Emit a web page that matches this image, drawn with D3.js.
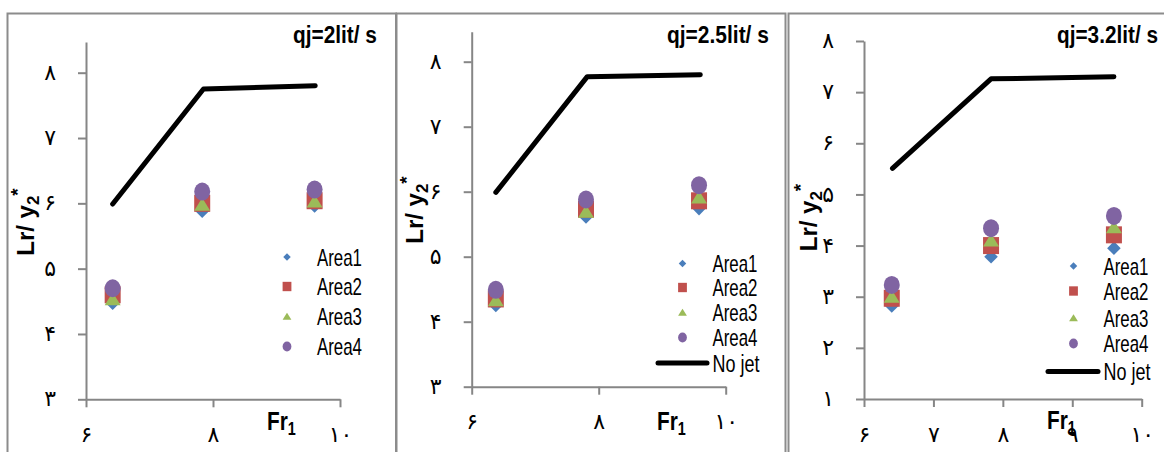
<!DOCTYPE html>
<html lang="en">
<head>
    <meta charset="UTF-8">
    <title>Lr/y2* vs Fr1</title>
    <script src="https://d3js.org/d3.v7.min.js"></script>
    <style>
        body {
            margin: 0;
            background: #fff;
            font-family: "Liberation Sans", Arial, sans-serif;
        }
        svg {
            display: block;
        }
    </style>
</head>
<body>
    <div id="container"></div>

    <script>
        // data
        const seriesNames = ['Area1', 'Area2', 'Area3', 'Area4'];
        const titles = ['qj=2lit/ s', 'qj=2.5lit/ s', 'qj=3.2lit/ s'];

        // Fr1 of the three runs in each panel
        const fr1 = [[6.42, 7.83, 9.6], [6.38, 7.8, 9.58], [6.4, 7.83, 9.6]];

        const area1 = [[4.47, 5.88, 5.96], [4.25, 5.61, 5.74], [2.82, 3.78, 3.95]];
        const area2 = [[4.60, 6.00, 6.04], [4.35, 5.73, 5.86], [2.97, 4.00, 4.21]];
        const area3 = [[4.53, 5.98, 6.03], [4.33, 5.69, 5.91], [3.00, 4.10, 4.36]];
        const area4 = [[4.70, 6.18, 6.21], [4.49, 5.88, 6.10], [3.23, 4.34, 4.58]];
        const noJetX = [[6.42, 7.85, 9.61], [6.38, 7.82, 9.6], [6.41, 7.83, 9.6]];
        const noJet = [[5.99, 7.75, 7.80], [5.99, 7.77, 7.80], [5.51, 7.26, 7.30]];

        const xTicks = [[6, 8, 10], [6, 8, 10], [6, 7, 8, 9, 10]];
        const yTicks = [[3, 4, 5, 6, 7, 8], [3, 4, 5, 6, 7, 8], [1, 2, 3, 4, 5, 6, 7, 8]];
        const yDomains = [[3, 8.47], [3, 8.46], [1, 8]];

        const colors = ['#4a7ebb', '#c0504d', '#9bbb59', '#8064a2'];

        // persian digits for tick labels
        const fa = n => String(n).replace(/\d/g, d => '۰۱۲۳۴۵۶۷۸۹'[d]);

        // layout of each panel, in pixels
        const panels = [
            { frame: [7.5, 13.5, 388.5], xr: [86, 340], yr: [399.3, 42], titleX: 377, titleW: 84,
              yLab: [34, 222], frX: 267, frY: 430, legX: 287, legY: [257, 286.5, 316.5, 346.5], legLine: false },
            { frame: [396.5, 13.5, 389], xr: [471.7, 725.7], yr: [386.7, 31.8], titleX: 769, titleW: 102,
              yLab: [423, 210], frX: 657, frY: 430, legX: 682.5, legY: [263.5, 287.5, 312.5, 337.5, 363], legLine: [658, 707] },
            { frame: [788.5, 13.5, 400], xr: [864, 1141.7], yr: [399, 41], titleX: 1158, titleW: 101,
              yLab: [817, 217.5], frX: 1047, frY: 428.5, legX: 1073.5, legY: [266, 291, 318, 343.5, 371.5], legLine: [1048, 1098] }
        ];

        const svg = d3.select('#container').append('svg')
            .attr('width', 1164)
            .attr('height', 452);

        const seriesData = [area1, area2, area3, area4];

        // squeeze a text sideways so it is w pixels wide, left edge at x
        function fitText(t, x, y, w) {
            const natural = t.node().getComputedTextLength();
            t.attr('transform', `translate(${x},${y}) scale(${w / natural},1)`);
        }

        // marker shapes
        function drawMarker(g, s, cx, cy, k) {
            if (s === 0) {
                g.append('rect')
                    .attr('x', -4.8 * k).attr('y', -4.8 * k)
                    .attr('width', 9.6 * k).attr('height', 9.6 * k)
                    .attr('transform', `translate(${cx},${cy}) rotate(45)`)
                    .attr('fill', colors[0]);
            } else if (s === 1) {
                g.append('rect')
                    .attr('x', cx - 8 * k).attr('y', cy - 8.5 * k)
                    .attr('width', 16 * k).attr('height', 17 * k)
                    .attr('fill', colors[1]);
            } else if (s === 2) {
                g.append('path')
                    .attr('d', `M${cx},${cy - 7 * k}L${cx + 8 * k},${cy + 6 * k}L${cx - 8 * k},${cy + 6 * k}Z`)
                    .attr('fill', colors[2]);
            } else {
                g.append('ellipse')
                    .attr('cx', cx).attr('cy', cy)
                    .attr('rx', 8 * k).attr('ry', 9 * k)
                    .attr('fill', colors[3]);
            }
        }

        panels.forEach((p, pi) => {
            const g = svg.append('g');

            // frame
            g.append('path')
                .attr('d', `M${p.frame[0]},460V${p.frame[1]}H${p.frame[0] + p.frame[2]}V460`)
                .attr('fill', 'none')
                .attr('stroke', '#8c8c8c')
                .attr('stroke-width', 2);

            const x = d3.scaleLinear().domain([6, 10]).range(p.xr);
            const y = d3.scaleLinear().domain(yDomains[pi]).range(p.yr);

            // y axis
            const ya = g.append('g')
                .attr('transform', `translate(${p.xr[0]},0)`)
                .call(d3.axisLeft(y).tickValues(yTicks[pi]).tickSize(8).tickSizeOuter(0).tickFormat(fa).tickPadding(22));
            // x axis
            const xa = g.append('g')
                .attr('transform', `translate(0,${p.yr[0]})`)
                .call(d3.axisBottom(x).tickValues(xTicks[pi]).tickSize(8).tickSizeOuter(0).tickFormat(fa));

            [ya, xa].forEach(a => {
                a.selectAll('path, line').attr('stroke', '#868686').attr('stroke-width', 2);
                a.selectAll('text')
                    .attr('fill', '#000')
                    .attr('font-family', '"DejaVu Sans", sans-serif')
                    .attr('font-size', 22);
            });
            ya.selectAll('text').attr('dy', '0.3em');
            xa.selectAll('text').attr('y', 36).attr('dy', '0.3em');

            // no jet line
            const line = d3.line()
                .x((d, i) => x(noJetX[pi][i]))
                .y(d => y(d));
            g.append('path')
                .attr('d', line(noJet[pi]))
                .attr('fill', 'none')
                .attr('stroke', '#000')
                .attr('stroke-width', 5)
                .attr('stroke-linecap', 'round')
                .attr('stroke-linejoin', 'round');

            // markers
            seriesData.forEach((sd, s) => {
                sd[pi].forEach((v, i) => {
                    drawMarker(g, s, x(fr1[pi][i]), y(v), 1);
                });
            });

            // title
            const tt = g.append('text')
                .attr('font-weight', 'bold')
                .attr('font-size', 24)
                .text(titles[pi]);
            fitText(tt, p.titleX - p.titleW, 43, p.titleW);

            // y label
            const yl = g.append('text')
                .attr('transform', `translate(${p.yLab[0]},${p.yLab[1]}) rotate(-90)`)
                .attr('text-anchor', 'middle')
                .attr('font-weight', 'bold')
                .attr('font-size', 24);
            yl.append('tspan').text('Lr/ y');
            yl.append('tspan').attr('font-size', 17).attr('dy', 5).text('2');
            yl.append('tspan').attr('font-size', 19).attr('dy', -15).text('*');

            // x label
            const xl = g.append('text')
                .attr('transform', `translate(${p.frX},${p.frY}) scale(0.8,1)`)
                .attr('font-weight', 'bold')
                .attr('font-size', 26);
            xl.append('tspan').text('Fr');
            xl.append('tspan').attr('font-size', 18).attr('dy', 5).text('1');

            // legend
            const names = p.legLine ? seriesNames.concat(['No jet']) : seriesNames;
            names.forEach((name, s) => {
                const cy = p.legY[s];
                if (s < 4) {
                    drawMarker(g, s, p.legX, cy, 0.55);
                } else {
                    g.append('line')
                        .attr('x1', p.legLine[0]).attr('x2', p.legLine[1])
                        .attr('y1', cy).attr('y2', cy)
                        .attr('stroke', '#000')
                        .attr('stroke-width', 5)
                        .attr('stroke-linecap', 'round');
                }
                const lt = g.append('text')
                    .attr('dy', '0.36em')
                    .attr('font-size', 24)
                    .text(name);
                fitText(lt, p.legX + 30, cy, name === 'No jet' ? 47 : 45);
            });
        });
    </script>
</body>
</html>
